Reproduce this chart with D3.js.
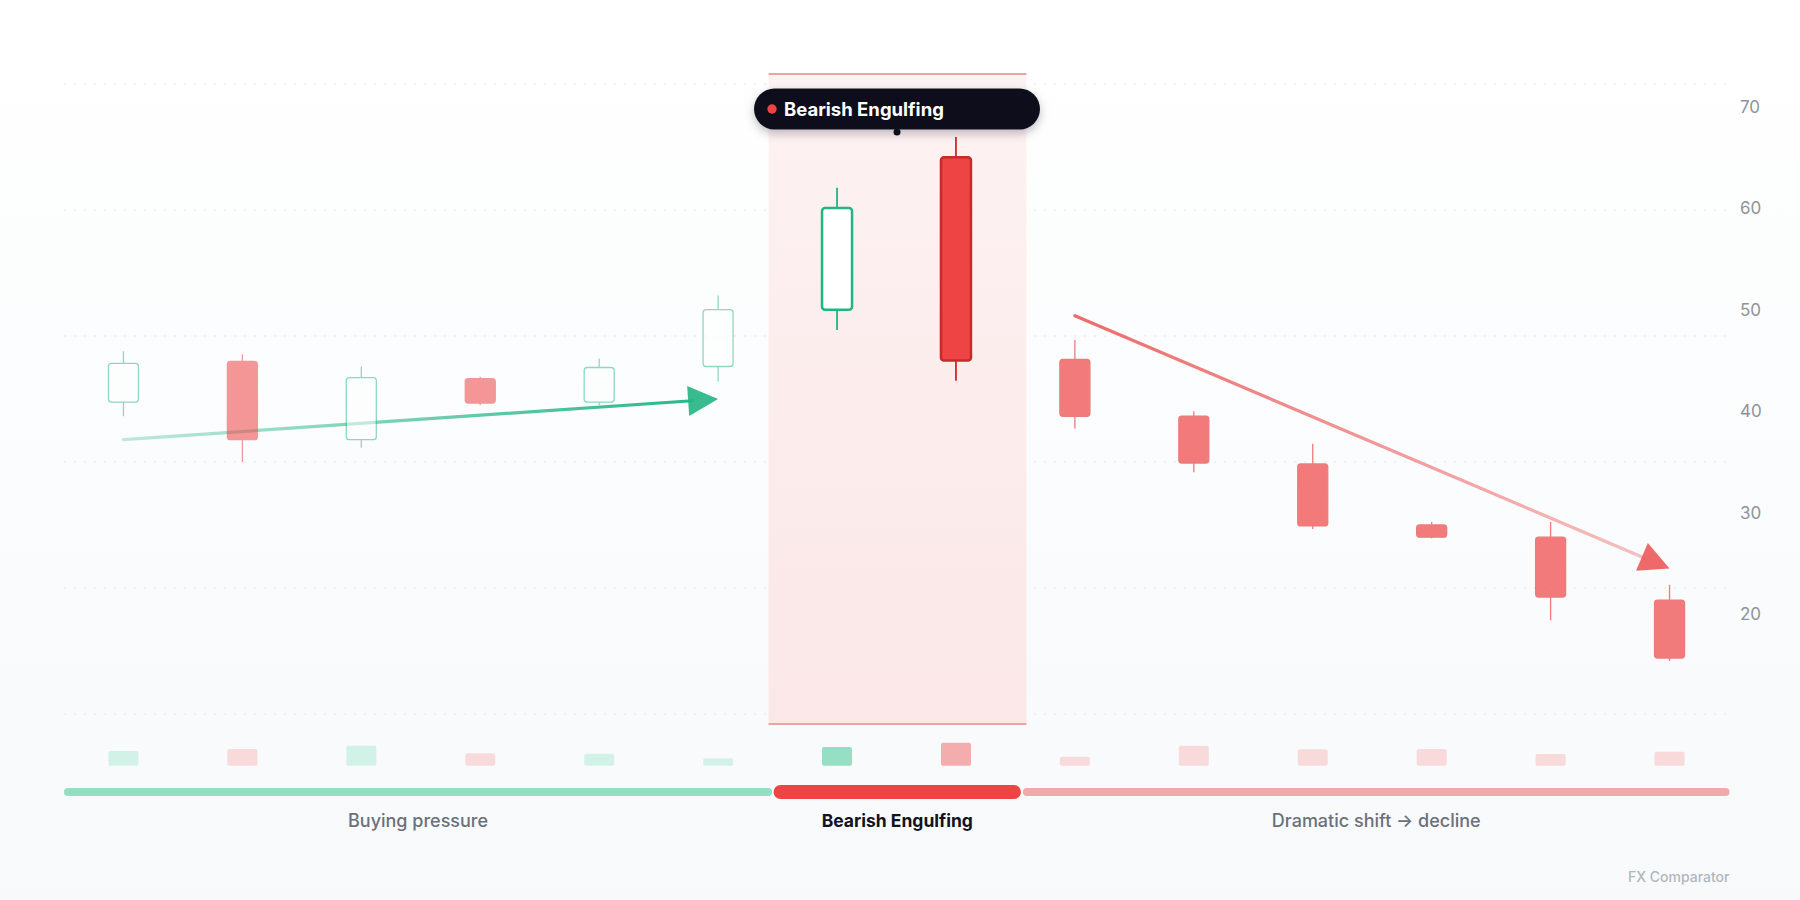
<!DOCTYPE html>
<html>
<head>
<meta charset="utf-8">
<script src="https://cdn.jsdelivr.net/npm/d3@7/dist/d3.min.js"></script>
<style>
  html, body { margin: 0; padding: 0; background: #ffffff; }
  svg { display: block; font-family: Inter, "Noto Sans", sans-serif; }
</style>
</head>
<body>
<svg id="chart"></svg>
<script>
// candle data (price units)
var opens  = [40.9, 44.9, 37.2, 43.2, 40.9, 44.4, 50.0, 65.0, 45.1, 39.5, 34.8, 28.8, 27.6, 21.4]
var highs  = [45.9, 45.6, 44.4, 43.4, 45.2, 51.4, 62.0, 67.0, 47.0, 40.0, 36.8, 29.1, 29.1, 22.9]
var lows   = [39.5, 35.0, 36.4, 40.6, 40.6, 42.9, 48.0, 43.0, 38.3, 34.0, 28.4, 27.5, 19.4, 15.4]
var closes = [44.7, 37.2, 43.3, 40.8, 44.3, 50.0, 60.0, 45.0, 39.5, 34.9, 28.7, 27.6, 21.7, 15.7]
var volumes = [44, 50, 60, 37, 36, 22, 56, 69, 27, 60, 49, 50, 35, 42]

var yTicks = [20, 30, 40, 50, 60, 70]
var patternIdx = [6, 7]
var patternName = 'Bearish Engulfing'
var phaseLabels = ['Buying pressure', 'Bearish Engulfing', 'Dramatic shift \u2192 decline']

// trend arrows: [candle index, price]
var trendUp = [[0, 37.2], [5, 41.2]]
var trendDown = [[8, 49.4], [13, 24.5]]

var width = 1800, height = 900
var green = '#22b583', red = '#ef4444'

var candles = opens.map(function (o, i) {
    return {i: i, open: o, high: highs[i], low: lows[i], close: closes[i], volume: volumes[i],
        bull: closes[i] >= o,
        phase: i < patternIdx[0] ? 'before' : (i > patternIdx[1] ? 'after' : 'pattern')}
})

var svg = d3.select('#chart').attr('width', width).attr('height', height)
var defs = svg.append('defs')

var bgGrad = defs.append('linearGradient').attr('id', 'bg').attr('x1', 0).attr('x2', 0).attr('y1', 0).attr('y2', 1)
bgGrad.append('stop').attr('offset', '0%').attr('stop-color', '#ffffff')
bgGrad.append('stop').attr('offset', '100%').attr('stop-color', '#f7f9fb')
svg.append('rect').attr('width', width).attr('height', height).attr('fill', 'url(#bg)')

var xScale = d3.scaleBand().domain(d3.range(candles.length)).range([64, 1729])
var yScale = d3.scaleLinear().domain([9.2, 73.2]).range([724, 74])
var bw = xScale.bandwidth()
var candleW = 30
function cx(i) { return xScale(i) + bw / 2 }

// dotted grid
var gridTop = 84, gridStep = 126
svg.append('g').selectAll('line')
    .data(d3.range(6))
    .enter()
    .append('line')
    .attr('x1', 64).attr('x2', 1729)
    .attr('y1', function (d) { return gridTop + d * gridStep })
    .attr('y2', function (d) { return gridTop + d * gridStep })
    .attr('stroke', '#e3e6ea')
    .attr('stroke-width', 1.2)
    .attr('stroke-dasharray', '2 8')

// highlight band around the pattern
var hlX0 = xScale(patternIdx[0]) - 9
var hlX1 = xScale(patternIdx[1]) + bw + 11
var hlGrad = defs.append('linearGradient').attr('id', 'hl').attr('x1', 0).attr('x2', 0).attr('y1', 0).attr('y2', 1)
hlGrad.append('stop').attr('offset', '0%').attr('stop-color', '#fdf2f2')
hlGrad.append('stop').attr('offset', '100%').attr('stop-color', '#fbe7e7')
svg.append('rect')
    .attr('x', hlX0).attr('y', yScale.range()[1])
    .attr('width', hlX1 - hlX0).attr('height', yScale.range()[0] - yScale.range()[1])
    .attr('fill', 'url(#hl)')
svg.append('g').selectAll('line')
    .data(yScale.range())
    .enter()
    .append('line')
    .attr('x1', hlX0).attr('x2', hlX1)
    .attr('y1', function (d) { return d }).attr('y2', function (d) { return d })
    .attr('stroke', '#eba4a4').attr('stroke-width', 2)

// y labels
svg.append('g').selectAll('text')
    .data(yTicks)
    .enter()
    .append('text')
    .attr('x', 1740)
    .attr('y', function (d) { return yScale(d) })
    .attr('dy', '0.36em')
    .attr('fill', '#8e939b')
    .attr('font-size', 17)
    .text(function (d) { return d })

// trend arrows
function drawTrend(pts, color, id, op0, op1) {
    var x0 = cx(pts[0][0]), y0 = yScale(pts[0][1])
    var x1 = cx(pts[1][0]), y1 = yScale(pts[1][1])
    var g = defs.append('linearGradient').attr('id', id).attr('gradientUnits', 'userSpaceOnUse')
        .attr('x1', x0).attr('y1', y0).attr('x2', x1).attr('y2', y1)
    g.append('stop').attr('offset', '0%').attr('stop-color', color).attr('stop-opacity', op0)
    g.append('stop').attr('offset', '100%').attr('stop-color', color).attr('stop-opacity', op1)
    var ang = Math.atan2(y1 - y0, x1 - x0)
    var headLen = 30, headW = 15
    var bx = x1 - headLen * Math.cos(ang), by = y1 - headLen * Math.sin(ang)
    svg.append('line')
        .attr('x1', x0).attr('y1', y0).attr('x2', bx + 4 * Math.cos(ang)).attr('y2', by + 4 * Math.sin(ang))
        .attr('stroke', 'url(#' + id + ')').attr('stroke-width', 3.2).attr('stroke-linecap', 'round')
    var head = [[x1, y1],
        [bx + headW * Math.sin(ang), by - headW * Math.cos(ang)],
        [bx - headW * Math.sin(ang), by + headW * Math.cos(ang)]]
    svg.append('path')
        .attr('d', 'M' + head.join('L') + 'Z')
        .attr('fill', color).attr('fill-opacity', 0.9)
}
drawTrend(trendUp, green, 'upGrad', 0.28, 1)
drawTrend(trendDown, '#ec5a5a', 'downGrad', 0.9, 0.35)

// candles
function candleColor(d) { return d.bull ? green : red }
function candleOpacity(d) {
    if (d.phase === 'pattern') return 1
    if (d.phase === 'before') return d.bull ? 0.5 : 0.55
    return 0.7
}
var cg = svg.append('g').selectAll('g')
    .data(candles)
    .enter()
    .append('g')
    .attr('opacity', candleOpacity)
cg.append('line')
    .attr('x1', function (d) { return cx(d.i) }).attr('x2', function (d) { return cx(d.i) })
    .attr('y1', function (d) { return yScale(d.high) }).attr('y2', function (d) { return yScale(d.low) })
    .attr('stroke', function (d) { return d.phase === 'pattern' && !d.bull ? '#c72a2a' : candleColor(d) })
    .attr('stroke-width', function (d) { return d.phase === 'pattern' ? 1.8 : 1.3 })
cg.append('rect')
    .attr('x', function (d) { return cx(d.i) - candleW / 2 })
    .attr('y', function (d) { return yScale(Math.max(d.open, d.close)) })
    .attr('width', candleW)
    .attr('height', function (d) { return Math.max(2, yScale(Math.min(d.open, d.close)) - yScale(Math.max(d.open, d.close))) })
    .attr('rx', 3)
    .attr('fill', function (d) { return d.bull ? '#ffffff' : red })
    .attr('stroke', function (d) {
        if (d.bull) return green
        return d.phase === 'pattern' ? '#c72a2a' : '#e04848'
    })
    .attr('stroke-width', function (d) { return d.phase === 'pattern' ? 2.5 : 1.3 })

// volume bars
var volBase = 765.7
var volScale = d3.scaleLinear().domain([0, d3.max(volumes)]).range([0, 23])
svg.append('g').selectAll('rect')
    .data(candles)
    .enter()
    .append('rect')
    .attr('x', function (d) { return cx(d.i) - candleW / 2 })
    .attr('y', function (d) { return volBase - volScale(d.volume) })
    .attr('width', candleW)
    .attr('height', function (d) { return volScale(d.volume) })
    .attr('rx', 2)
    .attr('fill', function (d) {
        if (d.phase === 'pattern') return d.bull ? '#95dfc5' : '#f4adae'
        return d.bull ? '#d3f2e7' : '#f9dada'
    })

// phase timeline
var tlY = 792
var segs = [
    {x0: 64, x1: hlX0 + 3.5, h: 8, color: '#94dfc4', label: phaseLabels[0], bold: false},
    {x0: hlX0 + 5, x1: hlX1 - 5.5, h: 14, color: red, label: phaseLabels[1], bold: true},
    {x0: hlX1 - 3.5, x1: 1729.5, h: 8, color: '#f2a9aa', label: phaseLabels[2], bold: false}
]
var tl = svg.append('g')
tl.selectAll('rect')
    .data(segs)
    .enter()
    .append('rect')
    .attr('x', function (d) { return d.x0 })
    .attr('y', function (d) { return tlY - d.h / 2 })
    .attr('width', function (d) { return d.x1 - d.x0 })
    .attr('height', function (d) { return d.h })
    .attr('rx', function (d) { return d.h / 2 })
    .attr('fill', function (d) { return d.color })
tl.selectAll('text')
    .data(segs)
    .enter()
    .append('text')
    .attr('x', function (d) { return (d.x0 + d.x1) / 2 })
    .attr('y', 821)
    .attr('dy', '0.36em')
    .attr('text-anchor', 'middle')
    .attr('font-size', function (d) { return d.bold ? 17.5 : 18 })
    .attr('font-weight', function (d) { return d.bold ? 700 : 500 })
    .attr('fill', function (d) { return d.bold ? '#12131f' : '#6b7079' })
    .text(function (d) { return d.label })

// pattern tooltip
var tipCx = (hlX0 + hlX1) / 2 - 0.5, tipW = 286, tipH = 41, tipY = 88.5
var shadow = defs.append('filter').attr('id', 'shadow').attr('x', '-20%').attr('y', '-50%').attr('width', '140%').attr('height', '220%')
shadow.append('feDropShadow').attr('dx', 0).attr('dy', 4).attr('stdDeviation', 5)
    .attr('flood-color', '#0f1020').attr('flood-opacity', 0.25)
var tip = svg.append('g')
tip.append('rect')
    .attr('x', tipCx - tipW / 2).attr('y', tipY)
    .attr('width', tipW).attr('height', tipH)
    .attr('rx', tipH / 2)
    .attr('fill', '#0f0f1d')
    .attr('filter', 'url(#shadow)')
tip.append('circle')
    .attr('cx', tipCx).attr('cy', tipY + tipH + 2.5).attr('r', 3.5)
    .attr('fill', '#0f0f1d')
tip.append('circle')
    .attr('cx', tipCx - tipW / 2 + 18).attr('cy', tipY + tipH / 2).attr('r', 4.7)
    .attr('fill', red)
tip.append('text')
    .attr('x', tipCx - tipW / 2 + 30).attr('y', tipY + tipH / 2)
    .attr('dy', '0.36em')
    .attr('font-size', 18.5)
    .attr('font-weight', 700)
    .attr('fill', '#ffffff')
    .text(patternName)

svg.append('text')
    .attr('x', 1729.5).attr('y', 882)
    .attr('text-anchor', 'end')
    .attr('font-size', 14)
    .attr('font-weight', 500)
    .attr('fill', '#b2b6bd')
    .text('FX Comparator')
</script>
</body>
</html>
